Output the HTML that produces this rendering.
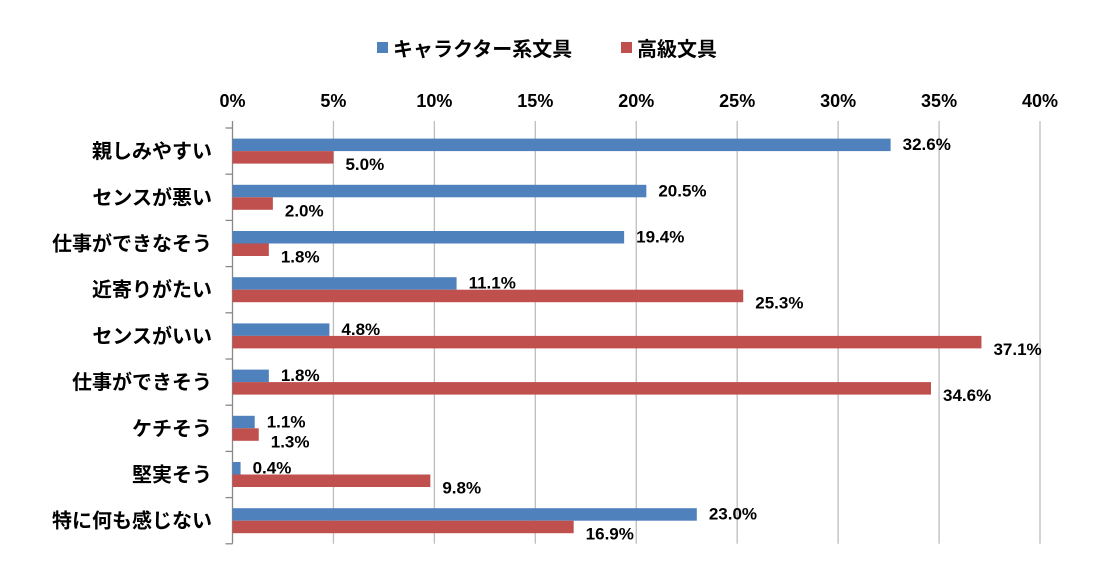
<!DOCTYPE html>
<html><head><meta charset="utf-8"><style>
body{margin:0;background:#fff;}
svg text{font-family:"Liberation Sans","Noto Sans CJK JP",sans-serif;font-weight:bold;fill:#000;}
</style></head><body>
<svg id="chart" width="1107" height="578" xmlns="http://www.w3.org/2000/svg">
<g id="legend">
<rect x="377" y="42" width="11" height="11" fill="#4f81bd"/>
<text x="393" y="56" font-size="20">キャラクター系文具</text>
<rect x="621" y="42" width="11" height="11" fill="#c0504d"/>
<text x="637" y="56" font-size="20">高級文具</text>
</g>
<g id="grid"></g><g id="bars"></g><g id="labels"></g>
</svg>
<script>
const categories=["親しみやすい","センスが悪い","仕事ができなそう","近寄りがたい","センスがいい","仕事ができそう","ケチそう","堅実そう","特に何も感じない"];
const characterValues=[32.6,20.5,19.4,11.1,4.8,1.8,1.1,0.4,23.0];
const luxuryValues=[5.0,2.0,1.8,25.3,37.1,34.6,1.3,9.8,16.9];
const xTicks=[0,5,10,15,20,25,30,35,40];
const NS="http://www.w3.org/2000/svg";
const x0=232.5,x1=1040,plotTop=128,bandH=46.2,barH=12.5;
const xs=v=>x0+(v/40)*(x1-x0);
const plotBottom=plotTop+bandH*categories.length;
function mk(tag,attrs,parent,txt){const e=document.createElementNS(NS,tag);for(const k in attrs)e.setAttribute(k,attrs[k]);if(txt!==undefined)e.textContent=txt;parent.appendChild(e);return e;}
const grid=document.getElementById('grid'),bars=document.getElementById('bars'),labels=document.getElementById('labels');
xTicks.forEach(t=>{
  const l=mk('line',{x1:xs(t),x2:xs(t),y1:121,y2:plotBottom,stroke:t===0?'#888':'#bdbdbd','stroke-width':1.3},grid);
  
  
  const tx=mk('text',{x:xs(t),y:107,'font-size':18,'text-anchor':'middle'},grid,t+'%');
  
  
});
for(let i=0;i<=categories.length;i++){
  const y=plotTop+i*bandH;
  const l=mk('line',{x1:x0-7,x2:x0,y1:y,y2:y,stroke:'#888','stroke-width':1.3},grid);
  
  
}
categories.forEach((c,i)=>{
  const cy=plotTop+i*bandH+bandH/2;
  const t=mk('text',{x:212,y:cy+7,'font-size':20,'text-anchor':'end'},labels,c);
  
  
  const b1=mk('rect',{x:x0,y:cy-barH,width:xs(characterValues[i])-x0,height:barH,fill:'#4f81bd'},bars);
  
  
  const b2=mk('rect',{x:x0,y:cy,width:xs(luxuryValues[i])-x0,height:barH,fill:'#c0504d'},bars);
  
  
  const v1=mk('text',{x:xs(characterValues[i])+12,y:cy-1,'font-size':17},labels,characterValues[i].toFixed(1)+'%');
  
  
  const v2=mk('text',{x:xs(luxuryValues[i])+12,y:cy+19,'font-size':17},labels,luxuryValues[i].toFixed(1)+'%');
  
  
});
</script>
</body></html>
